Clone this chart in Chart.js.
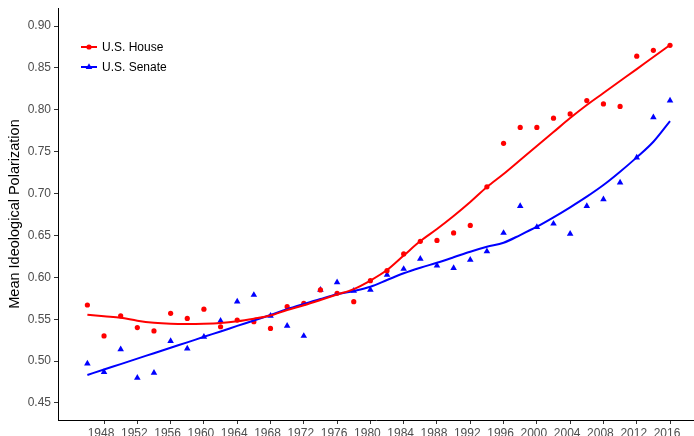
<!DOCTYPE html>
<html>
<head>
<meta charset="utf-8">
<script src="https://cdn.jsdelivr.net/npm/chart.js@4.4.1/dist/chart.umd.min.js"></script>
<style>
  html, body { margin: 0; padding: 0; background: #ffffff; overflow: hidden; }
  #wrap { width: 694px; height: 436px; position: relative; }
</style>
</head>
<body>
<div id="wrap"><canvas id="chart"></canvas></div>
<script>
// Congress (election year) and mean ideological polarization per chamber
const years = [1946, 1948, 1950, 1952, 1954, 1956, 1958, 1960, 1962, 1964, 1966, 1968,
               1970, 1972, 1974, 1976, 1978, 1980, 1982, 1984, 1986, 1988, 1990, 1992,
               1994, 1996, 1998, 2000, 2002, 2004, 2006, 2008, 2010, 2012, 2014, 2016];

const houseValues = [0.567, 0.530, 0.554, 0.540, 0.536, 0.557, 0.551, 0.562, 0.541, 0.549, 0.547, 0.539,
                     0.565, 0.569, 0.585, 0.581, 0.571, 0.596, 0.608, 0.628, 0.643, 0.644, 0.653, 0.662,
                     0.708, 0.760, 0.779, 0.779, 0.790, 0.795, 0.811, 0.807, 0.804, 0.864, 0.871, 0.877];

const senateValues = [0.497, 0.487, 0.514, 0.480, 0.486, 0.524, 0.515, 0.529, 0.548, 0.571, 0.579, 0.554,
                      0.542, 0.530, 0.585, 0.594, 0.584, 0.585, 0.603, 0.610, 0.622, 0.614, 0.611, 0.621,
                      0.631, 0.653, 0.685, 0.660, 0.664, 0.652, 0.685, 0.693, 0.713, 0.743, 0.791, 0.811];

// Smoothed trend for each chamber
const houseTrend = [0.5554, 0.5535, 0.5518, 0.5482, 0.5458, 0.5446, 0.5443, 0.5446, 0.5455, 0.5475, 0.5506, 0.5544,
                    0.5610, 0.5666, 0.5729, 0.5795, 0.5860, 0.5962, 0.6087, 0.6260, 0.6433, 0.6577, 0.6732, 0.6899,
                    0.7078, 0.7233, 0.7400, 0.7567, 0.7734, 0.7901, 0.8057, 0.8200, 0.8343, 0.8486, 0.8630, 0.8773];

const senateTrend = [0.4834, 0.4900, 0.4964, 0.5030, 0.5094, 0.5160, 0.5224, 0.5290, 0.5354, 0.5420, 0.5484, 0.5550,
                     0.5619, 0.5681, 0.5741, 0.5797, 0.5837, 0.5888, 0.5968, 0.6048, 0.6115, 0.6174, 0.6239, 0.6306,
                     0.6365, 0.6413, 0.6505, 0.6604, 0.6716, 0.6836, 0.6963, 0.7102, 0.7261, 0.7432, 0.7619, 0.7866];

const xTickValues = [1948, 1952, 1956, 1960, 1964, 1968, 1972, 1976, 1980, 1984, 1988, 1992, 1996, 2000, 2004, 2008, 2012, 2016];
const yTickValues = [0.45, 0.50, 0.55, 0.60, 0.65, 0.70, 0.75, 0.80, 0.85, 0.90];

const seriesLabels = ['U.S. House', 'U.S. Senate'];

const RED = '#ff0000';
const BLUE = '#0000ff';
const FONT = "'Liberation Sans', Arial, Helvetica, sans-serif";

const toPoints = (vals) => years.map((yr, i) => ({ x: yr, y: vals[i] }));

// Legend drawn inside the plotting panel, top-left: line + marker + label
const panelLegend = {
  id: 'panelLegend',
  afterDatasetsDraw(chart) {
    const ctx = chart.ctx;
    const entries = chart.data.datasets.filter(d => d.inLegend);
    ctx.save();
    entries.forEach((d, i) => {
      const y = 47 + i * 20;
      const x0 = 81, x1 = 97, cx = 89;
      ctx.strokeStyle = d.backgroundColor;
      ctx.lineWidth = 2;
      ctx.beginPath();
      ctx.moveTo(x0, y);
      ctx.lineTo(x1, y);
      ctx.stroke();
      ctx.fillStyle = d.backgroundColor;
      ctx.beginPath();
      if (d.pointStyle === 'triangle') {
        const r = d.pointRadius;
        const a = 2 * Math.PI / 3;
        ctx.moveTo(cx, y - r);
        ctx.lineTo(cx + Math.sin(a) * r, y - Math.cos(a) * r);
        ctx.lineTo(cx + Math.sin(2 * a) * r, y - Math.cos(2 * a) * r);
        ctx.closePath();
      } else {
        ctx.arc(cx, y, d.pointRadius, 0, Math.PI * 2);
      }
      ctx.fill();
      ctx.fillStyle = '#000000';
      ctx.font = '12px ' + FONT;
      ctx.textBaseline = 'middle';
      ctx.textAlign = 'left';
      ctx.fillText(d.label, 102, y + 0.5);
    });
    ctx.restore();
  }
};

const tickGrid = {
  drawOnChartArea: false,
  drawTicks: true,
  tickLength: 4,
  tickColor: '#333333',
  tickWidth: 1
};

new Chart(document.getElementById('chart'), {
  type: 'scatter',
  data: {
    datasets: [
      {
        label: seriesLabels[0],
        inLegend: true,
        data: toPoints(houseValues),
        showLine: false,
        pointStyle: 'circle',
        pointRadius: 2.6,
        pointHoverRadius: 2.6,
        backgroundColor: RED,
        borderColor: RED,
        pointBorderWidth: 0,
        order: 3
      },
      {
        label: seriesLabels[1],
        inLegend: true,
        data: toPoints(senateValues),
        showLine: false,
        pointStyle: 'triangle',
        pointRadius: 3.8,
        pointHoverRadius: 3.8,
        backgroundColor: BLUE,
        borderColor: BLUE,
        pointBorderWidth: 0,
        order: 4
      },
      {
        label: seriesLabels[0] + ' trend',
        data: toPoints(houseTrend),
        showLine: true,
        pointRadius: 0,
        borderColor: RED,
        backgroundColor: RED,
        borderWidth: 2,
        cubicInterpolationMode: 'monotone',
        order: 1
      },
      {
        label: seriesLabels[1] + ' trend',
        data: toPoints(senateTrend),
        showLine: true,
        pointRadius: 0,
        borderColor: BLUE,
        backgroundColor: BLUE,
        borderWidth: 2,
        cubicInterpolationMode: 'monotone',
        order: 2
      }
    ]
  },
  options: {
    responsive: true,
    maintainAspectRatio: false,
    animation: false,
    devicePixelRatio: 1,
    layout: { autoPadding: false, padding: { top: 8, right: 0, bottom: 0, left: 0 } },
    plugins: {
      legend: { display: false },
      tooltip: { enabled: false }
    },
    scales: {
      x: {
        type: 'linear',
        min: 1942.47,
        max: 2018.88,
        afterBuildTicks: (s) => { s.ticks = xTickValues.map(v => ({ value: v })); },
        afterFit: (s) => { s.height = 16; s.paddingLeft = 0; s.paddingRight = 0; },
        ticks: {
          autoSkip: false,
          maxRotation: 0,
          padding: 2,
          labelOffset: -3,
          color: '#4d4d4d',
          font: { family: "'Liberation Sans Narrow', " + FONT, size: 12 },
          callback: (v) => String(v)
        },
        grid: tickGrid,
        border: { display: true, color: '#000000', width: 1 }
      },
      y: {
        type: 'linear',
        min: 0.4297,
        max: 0.9215,
        afterBuildTicks: (s) => { s.ticks = yTickValues.map(v => ({ value: v })); },
        afterFit: (s) => { s.width = 58; s.paddingTop = 0; s.paddingBottom = 0; },
        ticks: {
          padding: 3,
          color: '#4d4d4d',
          font: { family: FONT, size: 12 },
          callback: (v) => Number(v).toFixed(2)
        },
        grid: tickGrid,
        border: { display: true, color: '#000000', width: 1 },
        title: {
          display: true,
          text: 'Mean Ideological Polarization',
          color: '#000000',
          font: { family: FONT, size: 14.5 },
          padding: { top: 6, bottom: 0 }
        }
      }
    }
  },
  plugins: [panelLegend]
});
</script>
</body>
</html>
